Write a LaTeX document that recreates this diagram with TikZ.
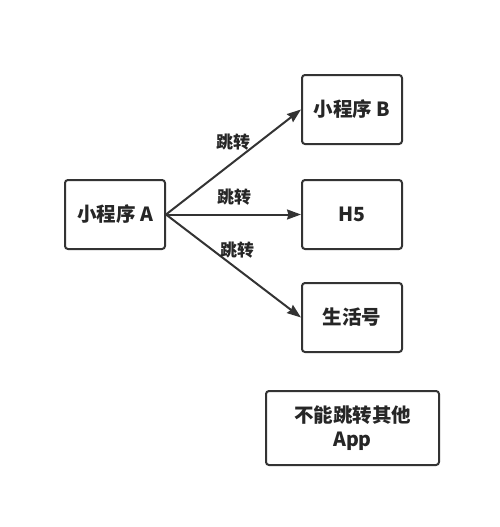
\documentclass[tikz,border=0pt]{standalone}
\usepackage{fontspec}
\setmainfont{Noto Sans CJK SC}
\usetikzlibrary{arrows.meta}

\begin{document}
\begin{tikzpicture}[x=1pt, y=-1pt, >={Stealth[length=14pt, width=10pt, inset=1.5pt]}, line width=2pt,
    box/.style={draw=black!80, rounded corners=3pt, minimum width=100pt, minimum height=69pt, inner sep=0pt, font=\fontsize{19.5}{24}\selectfont\bfseries, text=black!85},
    jump/.style={font=\fontsize{17}{20}\selectfont\bfseries, text=black!85, inner sep=0pt}]
    \useasboundingbox (0, 0) rectangle (500, 527);

    % Mini program A
    \node[box] (progA) at (115, 214.5) {小程序 A};

    % Targets
    \node[box] (progB) at (352, 109.5) {小程序 B};
    \node[box] (hfive) at (352, 214.5) {H5};
    \node[box] (life) at (352, 317.5) {生活号};

    % Note
    \node[box, minimum width=173pt, minimum height=74pt, align=center] (note) at (352.5, 428) {不能跳转其他\\App};

    % Arrows
    \draw[->, black!80] (progA.east) -- (progB.west);
    \draw[->, black!80] (progA.east) -- (hfive.west);
    \draw[->, black!80] (progA.east) -- (life.west);

    % Labels
    \node[jump] (jumpB) at (233, 142) {跳转};
    \node[jump] (jumpH) at (234, 197) {跳转};
    \node[jump] (jumpL) at (237, 250) {跳转};
\end{tikzpicture}
\end{document}
